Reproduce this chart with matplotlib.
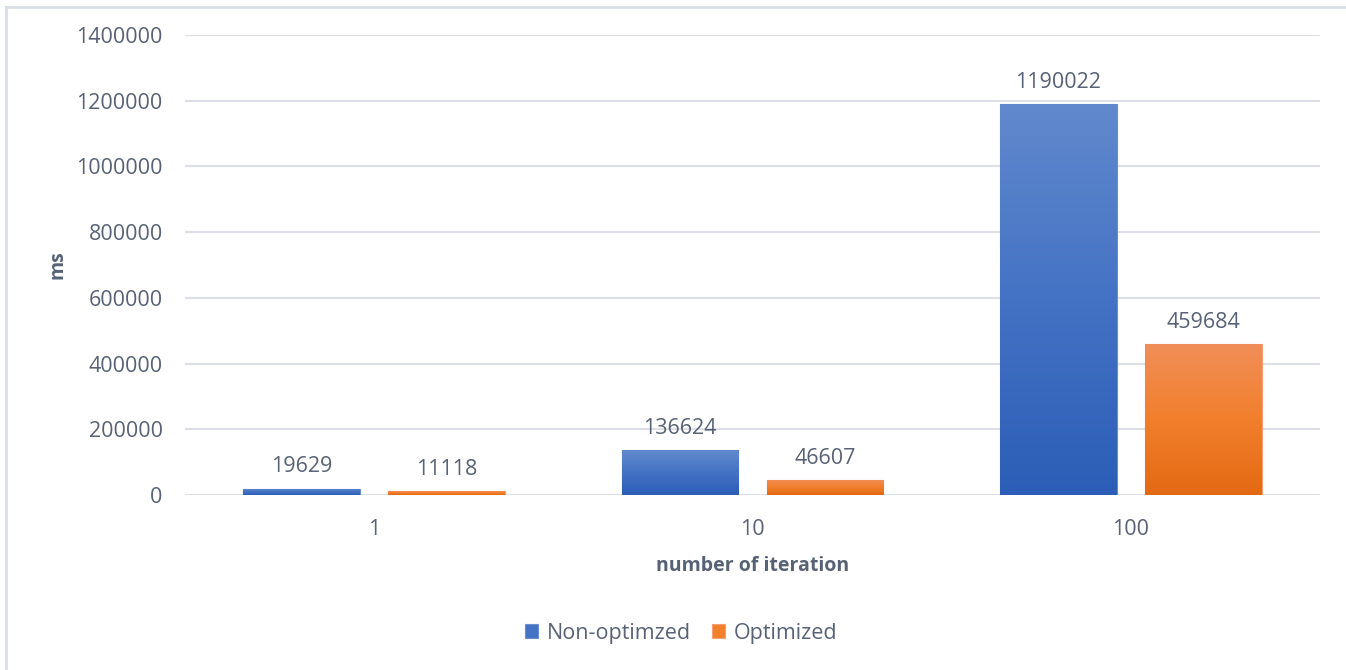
import numpy as np
import matplotlib
matplotlib.use("Agg")
import matplotlib.pyplot as plt
from matplotlib.lines import Line2D
from matplotlib.colors import LinearSegmentedColormap

categories = ["1", "10", "100"]
series_names = ["Non-optimzed", "Optimized"]
non_optimized = [19629, 136624, 1190022]
optimized = [11118, 46607, 459684]
y_ticks = [0, 200000, 400000, 600000, 800000, 1000000, 1200000, 1400000]

text_color = "#586276"
grid_color = "#DCDFE5"
plt.rcParams['font.family'] = ['Open Sans', 'DejaVu Sans']

fig = plt.figure(figsize=(13.46, 6.70), dpi=100)
ax = fig.add_axes([0.1374, 0.2612, 0.8433, 0.6866])

# frame of the chart: only the top and left edges are in the picture
frame_kw = dict(transform=fig.transFigure, color="#D9DEE6", lw=2)
fig.add_artist(Line2D([0.0045, 1.0], [0.9895, 0.9895], **frame_kw))
fig.add_artist(Line2D([0.0045, 0.0045], [0.0, 0.9895], **frame_kw))

x = np.arange(len(categories))
width = 0.309
offset = 0.1916

grads = [LinearSegmentedColormap.from_list("b", ["#2C5EB7", "#4472C4", "#6189CD"]),
         LinearSegmentedColormap.from_list("o", ["#E36913", "#F27F2C", "#F08E59"])]
edge = ["#6A8FD0", "#F3A074"]

for i, (vals, name) in enumerate(zip([non_optimized, optimized], series_names)):
    pos = x + (offset if i else -offset)
    bars = ax.bar(pos, vals, width, color=grads[i](0.5), ec=edge[i], lw=0.8,
                  label=name, zorder=2)
    for b, v in zip(bars, vals):
        grad = np.linspace(0, 1, 256).reshape(-1, 1)
        im = ax.imshow(grad, cmap=grads[i], aspect='auto', origin='lower',
                       extent=[b.get_x(), b.get_x() + b.get_width(), 0, v],
                       zorder=2.5)
        im.set_clip_path(b)
        ax.text(b.get_x() + b.get_width() / 2, v + 34000, str(v),
                ha='center', va='bottom', fontsize=15.5, color=text_color)

ax.set_xlim(-0.5, 2.5)
ax.set_ylim(0, 1400000)
ax.set_yticks(y_ticks)
ax.set_yticklabels([str(t) for t in y_ticks])
ax.set_xticks(x)
ax.set_xticklabels(categories)
ax.tick_params(length=0, labelsize=15.5, colors=text_color)
ax.tick_params(axis='y', pad=16)
ax.tick_params(axis='x', pad=17)
ax.grid(axis='y', color=grid_color, lw=1.5, zorder=0)
ax.set_axisbelow(True)
for s in ax.spines.values():
    s.set_visible(False)

ax.set_ylabel("ms", fontsize=14, fontweight='bold', color=text_color, labelpad=6)
ax.set_xlabel("number of iteration", fontsize=14, fontweight='bold',
              color=text_color, labelpad=12)

leg = fig.legend(loc='center', bbox_to_anchor=(0.506, 0.055), ncol=2,
                 frameon=False, fontsize=15.5, handlelength=0.6, handleheight=0.6,
                 handletextpad=0.4, columnspacing=1.0)
for t in leg.get_texts():
    t.set_color(text_color)

fig.savefig("out.png", dpi=100, facecolor="white")
